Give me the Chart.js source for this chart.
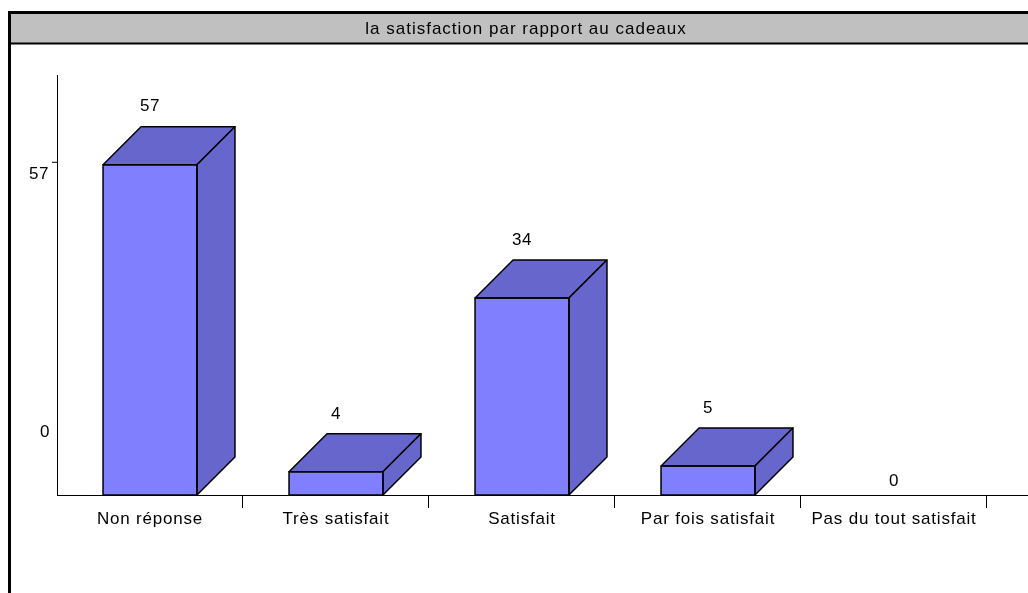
<!DOCTYPE html>
<html>
<head>
<meta charset="utf-8">
<script src="https://cdn.jsdelivr.net/npm/chart.js@4/dist/chart.umd.min.js"></script>
<style>
  html, body { margin: 0; padding: 0; background: #fff; }
  #wrap { width: 1028px; height: 593px; position: relative; }
</style>
</head>
<body>
<div id="wrap"><canvas id="c"></canvas></div>
<script>
const title = "la satisfaction par rapport au cadeaux";
const categories = ["Non réponse", "Très satisfait", "Satisfait", "Par fois satisfait", "Pas du tout satisfait"];
const values = [57, 4, 34, 5, 0];
const yTickValues = [0, 57];
const yMax = 72.5;

const FONT = '"Liberation Sans", Arial, sans-serif';
const FRONT = '#8080FF';
const DARK = '#6666CC';
const DEPTH = 38;

const decor = {
  id: 'decor',
  beforeDraw(chart) {
    const ctx = chart.ctx;
    const W = chart.width, H = chart.height;
    ctx.save();
    ctx.fillStyle = '#ffffff';
    ctx.fillRect(0, 0, W, H);
    // title bar
    ctx.fillStyle = '#C0C0C0';
    ctx.fillRect(10, 13, W - 10, 30);
    ctx.strokeStyle = '#000';
    ctx.lineWidth = 3;
    ctx.beginPath();
    ctx.moveTo(8, 12.5); ctx.lineTo(W, 12.5);
    ctx.moveTo(9.5, 11); ctx.lineTo(9.5, H);
    ctx.stroke();
    ctx.lineWidth = 2;
    ctx.beginPath();
    ctx.moveTo(8, 43.5); ctx.lineTo(W, 43.5);
    ctx.stroke();
    ctx.fillStyle = '#000';
    ctx.font = '17px ' + FONT;
    ctx.letterSpacing = '1px';
    ctx.textAlign = 'center';
    ctx.textBaseline = 'middle';
    ctx.fillText(title, 526, 29);

    // axes
    const area = chart.chartArea;
    const ys = chart.scales.y, xs = chart.scales.x;
    ctx.lineWidth = 1;
    ctx.strokeStyle = '#000';
    ctx.beginPath();
    ctx.moveTo(area.left + 0.5, area.top);
    ctx.lineTo(area.left + 0.5, area.bottom);
    ctx.moveTo(area.left, area.bottom + 0.5);
    ctx.lineTo(W, area.bottom + 0.5);
    ctx.stroke();
    // category boundary ticks
    const step = (area.right - area.left) / categories.length;
    ctx.beginPath();
    for (let i = 1; i <= categories.length; i++) {
      const bx = Math.round(area.left + step * i) - 0.5;
      ctx.moveTo(bx, area.bottom);
      ctx.lineTo(bx, area.bottom + 13);
    }
    ctx.stroke();
    // y ticks and labels
    ctx.font = '17px ' + FONT;
    ctx.letterSpacing = '0.5px';
    ctx.textAlign = 'right';
    yTickValues.forEach(v => {
      const py = ys.getPixelForValue(v);
      if (v !== 0) {
        ctx.beginPath();
        ctx.moveTo(area.left - 5, py - 2.5);
        ctx.lineTo(area.left, py - 2.5);
        ctx.stroke();
        ctx.fillText(String(v), area.left - 8, py + 10);
      } else {
        ctx.fillText(String(v), area.left - 7, py - 63);
      }
    });
    // category labels
    ctx.letterSpacing = '0.8px';
    ctx.textAlign = 'center';
    categories.forEach((c, i) => {
      ctx.fillText(c, xs.getPixelForValue(i), area.bottom + 24);
    });
    ctx.restore();
  },
  afterDatasetsDraw(chart) {
    const ctx = chart.ctx;
    const meta = chart.getDatasetMeta(0);
    ctx.save();
    ctx.strokeStyle = '#000';
    ctx.lineWidth = 1.5;
    ctx.lineJoin = 'round';
    ctx.font = '17px ' + FONT;
    ctx.letterSpacing = '0.5px';
    ctx.fillStyle = '#000';
    ctx.textAlign = 'center';
    ctx.textBaseline = 'middle';
    meta.data.forEach((bar, i) => {
      const v = values[i];
      const l = bar.x - bar.width / 2, r = bar.x + bar.width / 2;
      const t = bar.y, b = bar.base;
      if (v > 0) {
        ctx.fillStyle = DARK;
        // top face
        ctx.beginPath();
        ctx.moveTo(l, t); ctx.lineTo(l + DEPTH, t - DEPTH);
        ctx.lineTo(r + DEPTH, t - DEPTH); ctx.lineTo(r, t); ctx.closePath();
        ctx.fill(); ctx.stroke();
        // side face
        ctx.beginPath();
        ctx.moveTo(r, t); ctx.lineTo(r + DEPTH, t - DEPTH);
        ctx.lineTo(r + DEPTH, b - DEPTH); ctx.lineTo(r, b); ctx.closePath();
        ctx.fill(); ctx.stroke();
        // front outline
        ctx.strokeRect(l, t, r - l, b - t);
        ctx.fillStyle = '#000';
        ctx.fillText(String(v), bar.x, t - DEPTH - 20);
      } else {
        ctx.fillStyle = '#000';
        ctx.fillText(String(v), bar.x, b - 14);
      }
    });
    ctx.restore();
  }
};

new Chart(document.getElementById('c'), {
  type: 'bar',
  data: {
    labels: categories,
    datasets: [{
      data: values,
      backgroundColor: FRONT,
      borderWidth: 0,
      barPercentage: 0.505,
      categoryPercentage: 1
    }]
  },
  options: {
    responsive: true,
    maintainAspectRatio: false,
    animation: false,
    layout: { padding: { left: 57, right: 41, top: 75, bottom: 98 } },
    plugins: { legend: { display: false }, tooltip: { enabled: false }, title: { display: false } },
    scales: {
      x: { display: false },
      y: { display: false, min: 0, max: yMax }
    }
  },
  plugins: [decor]
});
</script>
</body>
</html>
